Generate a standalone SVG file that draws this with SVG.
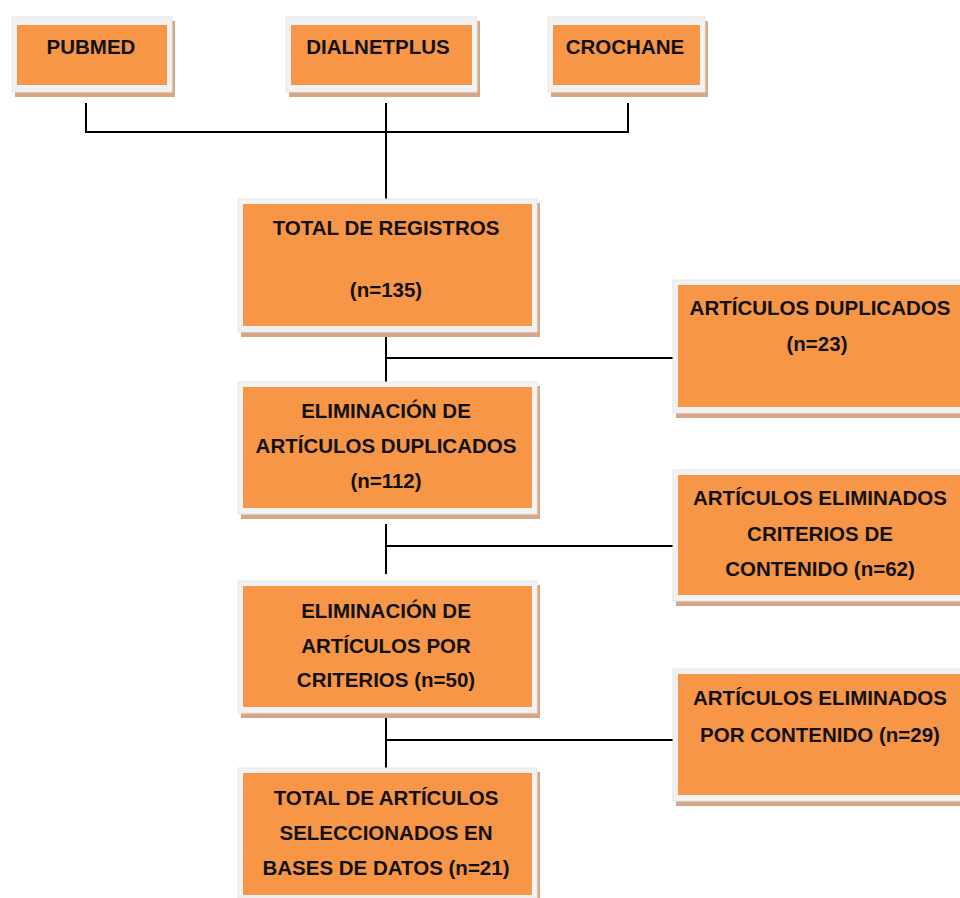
<svg xmlns="http://www.w3.org/2000/svg" width="960" height="898" viewBox="0 0 960 898">
<style>
.sh{fill:#d6a685}
.fr{fill:#f2f2f2;stroke:#e6e6e6;stroke-width:1}
.or{fill:#f79646}
text{font-family:"Liberation Sans",Arial,sans-serif;font-weight:bold;font-size:20.5px;fill:#111;text-anchor:middle}
.ln{stroke:#000;stroke-width:2;fill:none}
</style>
<rect width="960" height="898" fill="#fff"/>
<g id="connectors">
<path class="ln" d="M86 103V132H628V103"/>
<path class="ln" d="M386 103V199"/>
<path class="ln" d="M386 334V382M386 358H673"/>
<path class="ln" d="M386 524V574M386 546H673"/>
<path class="ln" d="M386 718V768M386 740H673"/>
</g>
<g id="pubmed">
<rect class="sh" x="15" y="21" width="160" height="76"/>
<rect class="fr" x="12" y="17" width="160" height="75"/>
<rect class="or" x="17" y="25" width="150" height="60"/>
<text x="91" y="54">PUBMED</text>
</g>
<g id="dialnetplus">
<rect class="sh" x="289" y="21" width="191" height="76"/>
<rect class="fr" x="286" y="17" width="191" height="75"/>
<rect class="or" x="291" y="25" width="181" height="60"/>
<text x="378" y="54">DIALNETPLUS</text>
</g>
<g id="crochane">
<rect class="sh" x="551" y="21" width="157" height="76"/>
<rect class="fr" x="548" y="17" width="157" height="75"/>
<rect class="or" x="553" y="25" width="147" height="60"/>
<text x="625" y="54">CROCHANE</text>
</g>
<g id="total-registros">
<rect class="sh" x="241" y="203" width="299" height="134"/>
<rect class="fr" x="238" y="199" width="299" height="133"/>
<rect class="or" x="243" y="204" width="289" height="122"/>
<text x="386" y="235">TOTAL DE REGISTROS</text>
<text x="386" y="297">(n=135)</text>
</g>
<g id="articulos-duplicados">
<rect class="sh" x="676" y="284" width="290" height="134"/>
<rect class="fr" x="673" y="280" width="290" height="133"/>
<rect class="or" x="678" y="285" width="290" height="122"/>
<text x="820" y="315">ARTÍCULOS DUPLICADOS</text>
<text x="817" y="351">(n=23)</text>
</g>
<g id="eliminacion-duplicados">
<rect class="sh" x="241" y="386" width="299" height="133"/>
<rect class="fr" x="238" y="382" width="299" height="132"/>
<rect class="or" x="243" y="387" width="289" height="121"/>
<text x="386" y="418">ELIMINACIÓN DE</text>
<text x="386" y="453">ARTÍCULOS DUPLICADOS</text>
<text x="386" y="488">(n=112)</text>
</g>
<g id="eliminados-criterios">
<rect class="sh" x="676" y="474" width="290" height="132"/>
<rect class="fr" x="673" y="470" width="290" height="131"/>
<rect class="or" x="678" y="475" width="290" height="120"/>
<text x="820" y="505">ARTÍCULOS ELIMINADOS</text>
<text x="820" y="541">CRITERIOS DE</text>
<text x="820" y="576">CONTENIDO (n=62)</text>
</g>
<g id="eliminacion-criterios">
<rect class="sh" x="241" y="585" width="299" height="133"/>
<rect class="fr" x="238" y="581" width="299" height="132"/>
<rect class="or" x="243" y="586" width="289" height="121"/>
<text x="386" y="618">ELIMINACIÓN DE</text>
<text x="386" y="653">ARTÍCULOS POR</text>
<text x="386" y="687">CRITERIOS (n=50)</text>
</g>
<g id="eliminados-contenido">
<rect class="sh" x="676" y="673" width="290" height="133"/>
<rect class="fr" x="673" y="669" width="290" height="132"/>
<rect class="or" x="678" y="674" width="290" height="121"/>
<text x="820" y="705">ARTÍCULOS ELIMINADOS</text>
<text x="820" y="742">POR CONTENIDO (n=29)</text>
</g>
<g id="total-seleccionados">
<rect class="sh" x="241" y="772" width="299" height="130"/>
<rect class="fr" x="238" y="768" width="299" height="130"/>
<rect class="or" x="243" y="773" width="289" height="122"/>
<text x="386" y="805">TOTAL DE ARTÍCULOS</text>
<text x="386" y="840">SELECCIONADOS EN</text>
<text x="386" y="875">BASES DE DATOS (n=21)</text>
</g>
</svg>
